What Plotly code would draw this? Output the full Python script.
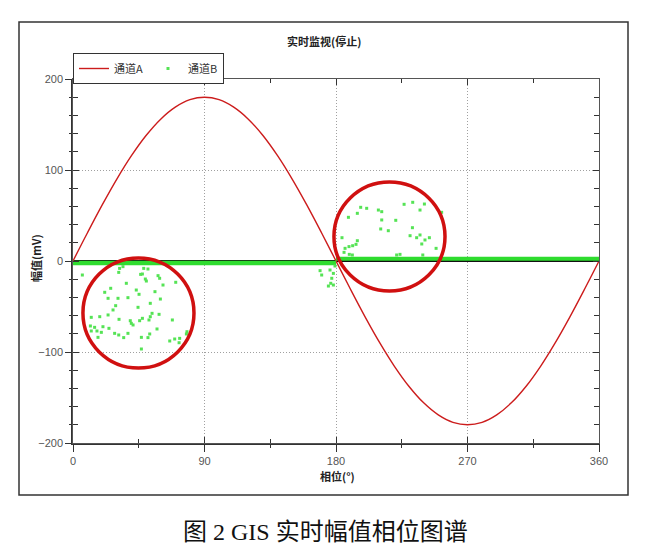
import plotly.graph_objects as go

# ---- data ----
phase_a = list(range(0, 361, 10))
amp_a = [0, 31.3, 61.6, 90.0, 115.7, 137.9, 155.9, 169.1, 177.3, 180.0,
         177.3, 169.1, 155.9, 137.9, 115.7, 90.0, 61.6, 31.3, 0,
         -31.3, -61.6, -90.0, -115.7, -137.9, -155.9, -169.1, -177.3, -180.0,
         -177.3, -169.1, -155.9, -137.9, -115.7, -90.0, -61.6, -31.3, 0]

# channel B dense noise band (drawn as thick segments)
band_neg_x = [0, 180]
band_neg_y = [-2.2, -2.2]
band_pos_x = [180, 360]
band_pos_y = [2.5, 2.5]

# channel B discharge points
phase_b = [6.4, 31.9, 34.2, 31.3, 48.4, 51.3, 47.5, 46.3, 58.2, 59.3, 49.5, 50.2, 36.5, 61.6, 70.3,
           25.8, 21.7, 43.3, 45.2, 56.1, 24.0, 30.8, 37.6, 59.8, 29.2, 52.9, 44.5, 27.4, 24.0, 54.1,
           12.5, 18.3, 31.5, 39.2, 39.9, 41.1, 47.5, 45.6, 52.9, 52.0, 58.9, 68.0, 11.9, 14.8, 20.5,
           24.6, 16.4, 12.5, 19.4, 28.5, 31.3, 37.6, 34.7, 52.5, 57.5, 46.8, 51.3, 17.1, 46.8, 66.2,
           69.6, 73.0, 77.6, 72.6, 78.0,
           169.1, 170.2, 175.9, 178.2, 177.1, 176.4, 178.2, 174.8, 179.3,
           196.9, 201.0, 209.0, 211.3, 194.6, 188.5, 226.6, 232.5, 240.5, 237.5, 252.3, 211.3, 220.9,
           210.6, 215.8, 232.3, 230.7, 235.2, 237.5, 240.9, 243.9, 238.7, 248.5, 184.1, 194.6, 193.7,
           191.4, 188.9, 186.2, 185.5, 189.1, 191.2, 221.5, 223.8, 239.4]
amp_b = [-15.4, -8.1, -6.2, -12.5, -8.1, -8.8, -14.3, -14.7, -16.1, -19.0, -19.8, -22.0, -24.5, -26.4, -23.4,
         -30.0, -34.4, -31.9, -36.6, -33.7, -41.0, -41.0, -40.3, -41.8, -49.1, -46.5, -50.9, -53.8, -59.3, -57.5,
         -61.9, -61.2, -64.1, -65.6, -68.5, -70.3, -63.0, -65.6, -61.2, -64.8, -58.6, -64.8, -71.4, -72.9, -72.2,
         -74.0, -76.9, -76.9, -78.4, -79.5, -81.3, -79.5, -84.2, -80.2, -74.7, -83.9, -84.2, -83.9, -96.7, -87.9,
         -85.7, -85.0, -80.2, -89.8, -77.7,
         -10.6, -15.4, -9.9, -13.6, -19.0, -24.5, -26.4, -27.5, -5.5,
         59.0, 57.9, 56.0, 54.2, 52.4, 48.0, 62.3, 64.5, 62.6, 56.0, 53.5, 45.1, 44.7,
         35.2, 33.3, 36.6, 27.8, 25.6, 28.6, 23.1, 25.6, 18.7, 13.9, 25.6, 22.3, 18.3,
         16.8, 15.8, 13.9, 9.5, 7.3, 6.6, 6.6, 7.3, 6.6]

x_ticks = [0, 90, 180, 270, 360]
y_ticks = [-200, -100, 0, 100, 200]

GREEN = "#55e355"
RED = "#cc1c1c"

# page offset (body margin 8px) -> plot area in page px: x 73..599, y 79..443
PX0, PW, PY1, PH = 73, 526, 443, 364


def px(x):
    return (x - PX0) / PW


def py(y):
    return (PY1 - y) / PH


fig = go.Figure()
fig.add_trace(go.Scatter(x=phase_a, y=amp_a, mode="lines", name="通道A",
                         line=dict(color=RED, width=1.4, shape="spline")))
fig.add_trace(go.Scatter(x=band_neg_x, y=band_neg_y, mode="lines", showlegend=False,
                         line=dict(color="#2fdc2f", width=4.5), hoverinfo="skip"))
fig.add_trace(go.Scatter(x=band_pos_x, y=band_pos_y, mode="lines", showlegend=False,
                         line=dict(color="#2fdc2f", width=4), hoverinfo="skip"))
fig.add_trace(go.Scatter(x=phase_b, y=amp_b, mode="markers", name="通道B",
                         marker=dict(color=GREEN, size=3, symbol="square")))
# helper trace so the overlay (inner tick) axes are drawn
fig.add_trace(go.Scatter(x=[None], y=[None], xaxis="x2", yaxis="y2", showlegend=False,
                         hoverinfo="skip"))

# red highlight circles
fig.add_shape(type="circle", xref="x", yref="y", x0=6.8, x1=82.8, y0=-117.6, y1=3.3,
              line=dict(color="#d01010", width=3.5), layer="above")
fig.add_shape(type="circle", xref="x", yref="y", x0=178.6, x1=254.6, y0=-33, y1=86.8,
              line=dict(color="#d01010", width=3.5), layer="above")

# outer frame
fig.add_shape(type="rect", xref="paper", yref="paper",
              x0=px(19), x1=px(628), y0=py(495), y1=py(22),
              line=dict(color="#333333", width=1.5), fillcolor="rgba(0,0,0,0)")

tickfont = dict(family="Liberation Sans", size=11, color="#555555")
GRIDDASH = "1px,2px"

fig.update_layout(
    width=641, height=545,
    margin=dict(l=65, r=50, t=71, b=110, autoexpand=False),
    paper_bgcolor="white", plot_bgcolor="white",
    showlegend=True,
    legend=dict(orientation="h", xref="paper", yref="paper",
                x=0, y=py(53), xanchor="left", yanchor="top",
                bordercolor="#333333", borderwidth=1, bgcolor="white",
                font=dict(family="Noto Sans CJK SC", size=11, color="#333333"),
                itemwidth=30, tracegroupgap=0),
    xaxis=dict(range=[0, 360], tickvals=x_ticks, ticks="outside", ticklen=7, tickwidth=1,
               tickcolor="#333333", showline=True, linecolor="#333333", linewidth=1.5,
               showgrid=True, gridcolor="#a0a0a0", griddash=GRIDDASH, gridwidth=1,
               zeroline=False, tickfont=tickfont, fixedrange=True,
               minor=dict(dtick=45, tick0=0, ticks="outside", ticklen=3, tickcolor="#333333",
                          showgrid=False)),
    yaxis=dict(range=[-200, 200], tickvals=y_ticks, ticks="outside", ticklen=6, tickwidth=1,
               tickcolor="#333333", showline=True, linecolor="#333333", linewidth=1.5,
               showgrid=True, gridcolor="#a0a0a0", griddash=GRIDDASH, gridwidth=1,
               zeroline=True, zerolinecolor="#111111", zerolinewidth=1.5,
               tickfont=tickfont, fixedrange=True,
               minor=dict(dtick=20, tick0=0, ticks="outside", ticklen=2, tickcolor="#333333",
                          showgrid=False)),
    xaxis2=dict(range=[0, 360], overlaying="x", anchor="y", side="bottom", tickvals=x_ticks,
                ticks="inside", ticklen=6, tickcolor="#333333", showticklabels=False,
                showline=True, linecolor="#555555", linewidth=1.2, mirror="ticks",
                showgrid=False, zeroline=False,
                minor=dict(dtick=45, tick0=0, ticks="inside", ticklen=4, tickcolor="#333333",
                           showgrid=False)),
    yaxis2=dict(range=[-200, 200], overlaying="y", anchor="x", side="left", tickvals=y_ticks,
                ticks="inside", ticklen=6, tickcolor="#333333", showticklabels=False,
                showline=True, linecolor="#555555", linewidth=1.2, mirror="ticks",
                showgrid=False, zeroline=False,
                minor=dict(dtick=20, tick0=0, ticks="inside", ticklen=5, tickcolor="#333333",
                           showgrid=False)),
    annotations=[
        dict(text="<b>实时监视(停止)</b>", xref="paper", yref="paper",
             x=px(324), y=py(41), xanchor="center", yanchor="middle", showarrow=False,
             font=dict(family="Noto Sans CJK SC", size=11, color="#222222")),
        dict(text="<b>相位(°)</b>", xref="paper", yref="paper",
             x=px(337), y=py(476), xanchor="center", yanchor="middle", showarrow=False,
             font=dict(family="Noto Sans CJK SC", size=11, color="#222222")),
        dict(text="<b>幅值(mV)</b>", xref="paper", yref="paper", textangle=-90,
             x=px(36), y=py(258), xanchor="center", yanchor="middle", showarrow=False,
             font=dict(family="Noto Sans CJK SC", size=11, color="#222222")),
        dict(text="图 2 GIS 实时幅值相位图谱", xref="paper", yref="paper",
             x=px(325), y=py(532), xanchor="center", yanchor="middle", showarrow=False,
             font=dict(family="Liberation Serif, Noto Sans CJK SC", size=24, color="#111111")),
    ],
)

fig.write_html("out.html")
